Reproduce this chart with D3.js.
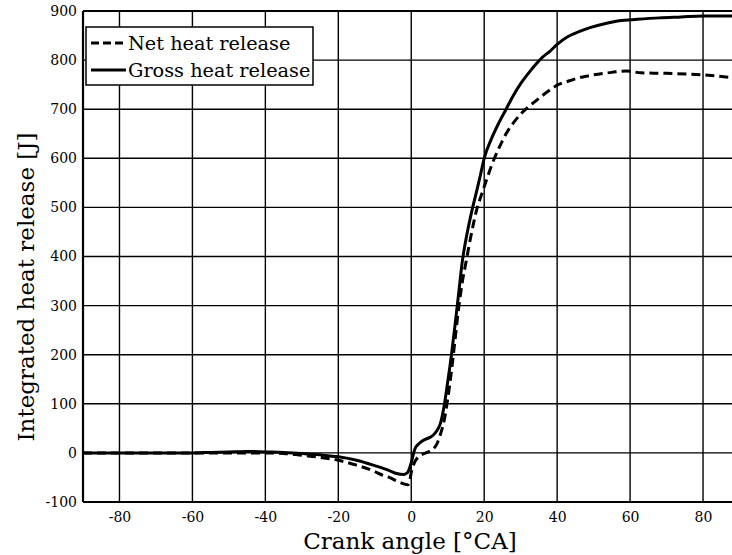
<!DOCTYPE html>
<html><head><meta charset="utf-8">
<script src="https://cdn.jsdelivr.net/npm/d3@7"></script>
<style>body{margin:0;background:#fff}svg{display:block}</style>
</head><body><svg id="c" width="732" height="555"></svg>
<script>
const xTicks=[-80,-60,-40,-20,0,20,40,60,80];
const yTicks=[-100,0,100,200,300,400,500,600,700,800,900];
const seriesNames=["Net heat release","Gross heat release"];
const grossAngle=[-90,-80,-70,-60,-55,-50,-45,-40,-35,-30,-25,-20,-15,-10,-6,-4,-2,-1,0,1,2,3,4,5,6,7,8,9,10,11,12,13,14,15,16,17,18,19,20,22,24,26,28,30,32,34,36,38,40,43,46,49,53,57,62,68,74,80,85,90];
const grossVal=[0,0,0,0,1,2,3,2,1,-1,-4,-8,-15,-26,-36,-42,-44,-40,-20,8,18,24,28,31,36,45,60,95,145,198,260,325,390,435,472,505,535,567,600,640,672,700,728,752,772,790,806,818,832,848,858,866,874,880,883,886,888,890,890,890];
const netAngle=[-90,-80,-70,-60,-50,-40,-35,-30,-25,-20,-15,-10,-8,-6,-4,-2,-1,-0.5,0,1,2,3,4,5,6,7,8,9,10,11,12,13,14,15,16,17,18,19,20,22,24,26,28,30,32,34,36,38,40,43,46,50,55,59,63,70,80,88,90];
const netVal=[0,0,0,0,0,0,-1,-5,-9,-15,-25,-38,-45,-50,-57,-63,-65,-60,-40,-18,-8,-3,0,3,8,18,38,65,110,165,230,295,348,388,428,465,497,520,542,585,620,650,672,690,704,716,728,739,749,757,764,770,775,778,774,773,770,764,762];

const svg=d3.select("#c");
const x=d3.scaleLinear().domain([-90,90]).range([83,739.5]);
const y=d3.scaleLinear().domain([-100,900]).range([502,11]);
const font="'DejaVu Serif', serif";

svg.append("defs").append("clipPath").attr("id","clip").append("rect")
  .attr("x",83).attr("y",11).attr("width",656.5).attr("height",491);

// grid
const g=svg.append("g");
g.selectAll(".vg").data(xTicks).join("line")
  .attr("x1",d=>x(d)).attr("x2",d=>x(d)).attr("y1",y(900)).attr("y2",y(-100))
  .attr("stroke","#000").attr("stroke-width",1.4);
g.selectAll(".hg").data(yTicks).join("line")
  .attr("x1",x(-90)).attr("x2",x(90)).attr("y1",d=>y(d)).attr("y2",d=>y(d))
  .attr("stroke","#000").attr("stroke-width",d=>(d===900||d===-100)?2.2:1.4);
g.append("line").attr("x1",x(-90)).attr("x2",x(-90)).attr("y1",y(900)).attr("y2",y(-100))
  .attr("stroke","#000").attr("stroke-width",2.2);

// axes labels
const xAxis=d3.axisBottom(x).tickValues(xTicks).tickSize(0).tickPadding(10).tickFormat(d=>d);
const xa=svg.append("g").attr("transform",`translate(0,${y(-100)})`).call(xAxis);
xa.select(".domain").remove();
xa.selectAll("text").attr("font-family",font).attr("font-size",14).attr("fill","#000");

const yAxis=d3.axisLeft(y).tickValues(yTicks).tickSize(0).tickPadding(6).tickFormat(d=>d);
const ya=svg.append("g").attr("transform",`translate(${x(-90)},0)`).call(yAxis);
ya.select(".domain").remove();
ya.selectAll("text").attr("font-family",font).attr("font-size",14).attr("fill","#000");

// lines
const line=d3.line().curve(d3.curveMonotoneX).x(d=>x(d[0])).y(d=>y(d[1]));
const grossData=grossAngle.map((a,i)=>[a,grossVal[i]]);
const netData=netAngle.map((a,i)=>[a,netVal[i]]);
const lg=svg.append("g").attr("clip-path","url(#clip)");
lg.append("path").datum(netData).attr("d",line).attr("fill","none").attr("stroke","#000")
  .attr("stroke-width",3).attr("stroke-dasharray","9,5");
lg.append("path").datum(grossData).attr("d",line).attr("fill","none").attr("stroke","#000")
  .attr("stroke-width",3);

// titles
svg.append("text").attr("x",410).attr("y",549).attr("text-anchor","middle")
  .attr("font-family",font).attr("font-size",23).text("Crank angle [°CA]");
svg.append("text").attr("transform","translate(34,287) rotate(-90)").attr("text-anchor","middle")
  .attr("font-family",font).attr("font-size",23).text("Integrated heat release [J]");

// legend
const leg=svg.append("g");
leg.append("rect").attr("x",86).attr("y",27).attr("width",227).attr("height",58)
  .attr("fill","#fff").attr("stroke","#000").attr("stroke-width",1.5);
leg.append("line").attr("x1",91).attr("x2",126).attr("y1",43).attr("y2",43)
  .attr("stroke","#000").attr("stroke-width",3).attr("stroke-dasharray","8,4");
leg.append("line").attr("x1",91).attr("x2",126).attr("y1",70).attr("y2",70)
  .attr("stroke","#000").attr("stroke-width",3);
leg.selectAll("text.l").data(seriesNames).join("text")
  .attr("x",128).attr("y",(d,i)=>50+i*27).attr("font-family",font).attr("font-size",19.3)
  .text(d=>d);
</script></body></html>
